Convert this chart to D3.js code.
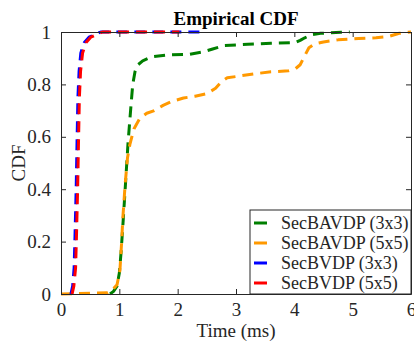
<!DOCTYPE html>
<html>
<head>
<meta charset="utf-8">
<script src="https://cdn.jsdelivr.net/npm/d3@7"></script>
<style>
  body { margin: 0; background: #fff; }
  text { font-family: "Liberation Serif", "Times New Roman", serif; fill: #262626; }
</style>
</head>
<body>
<div id="chart-area"></div>
<script>
// series values (time in ms, cdf)
const names = ["SecBAVDP (3x3)", "SecBAVDP (5x5)", "SecBVDP (3x3)", "SecBVDP (5x5)"];
const colors = ["#007f00", "#ff9900", "#0000ff", "#ff0000"];

const greenX = [0.84, 0.90, 0.96, 1.00, 1.03, 1.06, 1.10, 1.15, 1.20, 1.23, 1.27, 1.32, 1.40, 1.55, 1.80, 2.20, 2.45, 2.60, 2.80, 3.20, 3.60, 4.02, 4.10, 4.18, 4.30, 4.45, 4.80, 4.95];
const greenY = [0, 0.01, 0.03, 0.08, 0.16, 0.26, 0.40, 0.58, 0.72, 0.80, 0.85, 0.875, 0.89, 0.905, 0.912, 0.915, 0.925, 0.935, 0.948, 0.953, 0.957, 0.96, 0.968, 0.978, 0.99, 0.995, 0.999, 1.0];

const orangeX = [0, 0.80, 0.88, 0.96, 1.01, 1.04, 1.06, 1.10, 1.14, 1.18, 1.25, 1.35, 1.47, 1.60, 1.75, 1.90, 2.10, 2.30, 2.50, 2.65, 2.75, 2.85, 3.00, 3.30, 3.60, 3.90, 4.02, 4.10, 4.18, 4.25, 4.35, 4.50, 4.75, 5.10, 5.40, 5.60, 5.80, 6.0];
const orangeY = [0, 0.005, 0.015, 0.035, 0.09, 0.20, 0.29, 0.42, 0.52, 0.57, 0.63, 0.67, 0.69, 0.70, 0.72, 0.735, 0.748, 0.755, 0.765, 0.785, 0.81, 0.825, 0.83, 0.84, 0.848, 0.852, 0.86, 0.875, 0.91, 0.94, 0.955, 0.962, 0.97, 0.975, 0.978, 0.982, 0.995, 1.0];

const blueX = [0.17, 0.20, 0.225, 0.24, 0.26, 0.275, 0.29, 0.31, 0.34, 0.40, 0.48, 0.58, 0.68, 1.20, 1.80, 2.43];
const blueY = [0, 0.03, 0.10, 0.22, 0.40, 0.58, 0.75, 0.85, 0.92, 0.96, 0.98, 0.99, 1, 1, 1, 1];

const redX = [0.19, 0.22, 0.25, 0.265, 0.285, 0.30, 0.315, 0.335, 0.37, 0.43, 0.51, 0.61, 0.71, 1.20, 1.60, 2.03];
const redY = [0, 0.03, 0.10, 0.22, 0.40, 0.58, 0.75, 0.85, 0.92, 0.96, 0.98, 0.99, 1, 1, 1, 1];

const xTicks = [0, 1, 2, 3, 4, 5, 6];
const yTicks = [0, 0.2, 0.4, 0.6, 0.8, 1];

const seriesX = [greenX, orangeX, blueX, redX];
const seriesY = [greenY, orangeY, blueY, redY];

const W = 414, H = 344;
const margin = { top: 32, right: 3, bottom: 50, left: 61 };
const w = W - margin.left - margin.right;
const h = H - margin.top - margin.bottom;

const svg = d3.select("#chart-area").append("svg")
  .attr("width", W)
  .attr("height", H);

const g = svg.append("g")
  .attr("transform", "translate(" + margin.left + "," + margin.top + ")");

const x = d3.scaleLinear().domain([0, 6]).range([0, w]);
const y = d3.scaleLinear().domain([0, 1]).range([h, 0]);

g.append("clipPath").attr("id", "clip")
  .append("rect").attr("x", -2).attr("y", -2).attr("width", w + 4).attr("height", h + 4);

// lines
const line = d3.line().x(d => x(d[0])).y(d => y(d[1]));
seriesX.forEach(function (xs, i) {
  const pts = xs.map((v, j) => [v, seriesY[i][j]]);
  g.append("path")
    .attr("clip-path", "url(#clip)")
    .attr("d", line(pts))
    .attr("fill", "none")
    .attr("stroke", colors[i])
    .attr("stroke-width", 3)
    .attr("stroke-dasharray", "11,7")
    .attr("stroke-linejoin", "round");
});

// axes (ticks inside, on all four sides)
const axisColor = "#262626";
const axBottom = g.append("g").attr("transform", "translate(0," + h + ")")
  .call(d3.axisBottom(x).tickValues(xTicks).tickSizeInner(-5).tickSizeOuter(0).tickPadding(9).tickFormat(d3.format("d")));
const axTop = g.append("g")
  .call(d3.axisTop(x).tickValues(xTicks).tickSizeInner(-5).tickSizeOuter(0).tickFormat(""));
const axLeft = g.append("g")
  .call(d3.axisLeft(y).tickValues(yTicks).tickSizeInner(-5).tickSizeOuter(0).tickPadding(10).tickFormat(d => d === 0 || d === 1 ? d : d.toFixed(1)));
const axRight = g.append("g").attr("transform", "translate(" + w + ",0)")
  .call(d3.axisRight(y).tickValues(yTicks).tickSizeInner(-5).tickSizeOuter(0).tickFormat(""));

[axBottom, axTop, axLeft, axRight].forEach(a => {
  a.select(".domain").attr("stroke", axisColor).attr("stroke-width", 1);
  a.selectAll(".tick line").attr("stroke", axisColor);
  a.selectAll(".tick text")
    .attr("font-family", "Liberation Serif")
    .attr("font-size", 19)
    .attr("fill", axisColor);
});

// legend
const legend = g.append("g")
  .attr("transform", "translate(" + (w - 161) + "," + (h - 84) + ")");
legend.append("rect")
  .attr("width", 161)
  .attr("height", 84)
  .attr("fill", "#fff")
  .attr("stroke", axisColor)
  .attr("stroke-width", 1);

names.forEach(function (name, i) {
  const row = legend.append("g")
    .attr("transform", "translate(0," + (13 + i * 20) + ")");
  row.append("line")
    .attr("x1", 4).attr("x2", 17)
    .attr("stroke", colors[i])
    .attr("stroke-width", 3);
  row.append("text")
    .attr("x", 31)
    .attr("y", 6)
    .attr("font-size", 18)
    .text(name);
});

// title and labels
svg.append("text")
  .attr("x", margin.left + w / 2)
  .attr("y", 25)
  .attr("text-anchor", "middle")
  .attr("font-size", 19)
  .attr("font-weight", "bold")
  .style("fill", "#000")
  .text("Empirical CDF");

svg.append("text")
  .attr("x", margin.left + w / 2)
  .attr("y", 337)
  .attr("text-anchor", "middle")
  .attr("font-size", 19)
  .text("Time (ms)");

svg.append("text")
  .attr("transform", "translate(25," + (margin.top + h / 2) + ") rotate(-90)")
  .attr("text-anchor", "middle")
  .attr("font-size", 19)
  .text("CDF");
</script>
</body>
</html>
